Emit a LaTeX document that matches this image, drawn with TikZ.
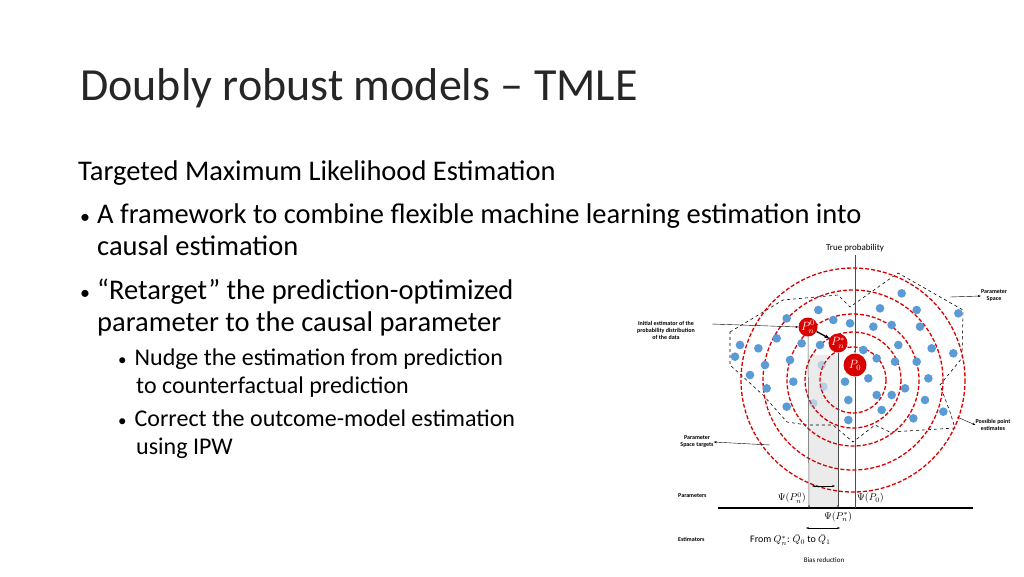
\documentclass[tikz,border=0pt]{standalone}
\usepackage{fontspec}
\setmainfont{Carlito}
\usepackage{amsmath}
\usetikzlibrary{arrows.meta}
\definecolor{dotblue}{HTML}{5B9BD5}
\begin{document}
\begin{tikzpicture}[x=1pt,y=-1pt,
  txt/.style={anchor=base west,inner sep=0},
  tiny/.style={font=\fontsize{6}{7}\selectfont\bfseries,align=center,inner sep=0},
  ring/.style={draw=red!85!black,line width=1.3pt,dash pattern=on 4pt off 2pt},
  dot/.style={fill=dotblue},
  pnode/.style={circle,fill=red!85!black,text=white,inner sep=0,minimum size=19pt,font=\large},
  vline/.style={draw=black!70,line width=0.5pt},
  lbl/.style={-{Stealth[length=3pt]},line width=0.4pt}]
\useasboundingbox (0,0) rectangle (1024,576);
\node[txt,font=\fontsize{46}{52}\selectfont,text=black!85] (title) at (80,100) {Doubly robust models -- TMLE};
\begin{scope}[every node/.append style={font=\fontsize{28.5}{34}\selectfont}]
\node[txt] (h) at (78,180) {Targeted Maximum Likelihood Estimation};
\node[txt] (b1) at (80,223) {{\fontsize{20}{20}\selectfont•}\hspace{7pt}A framework to combine flexible machine learning estimation into};
\node[txt] (b1b) at (97,255) {causal estimation};
\node[txt] (b2) at (80,299) {{\fontsize{20}{20}\selectfont•}\hspace{7pt}“Retarget” the prediction-optimized};
\node[txt] (b2b) at (97,331) {parameter to the causal parameter};
\end{scope}
\begin{scope}[every node/.append style={font=\fontsize{24}{28}\selectfont}]
\node[txt] (s1) at (118,365) {{\fontsize{17}{17}\selectfont•}\hspace{8pt}Nudge the estimation from prediction};
\node[txt] (s1b) at (136,393) {to counterfactual prediction};
\node[txt] (s2) at (118,426) {{\fontsize{17}{17}\selectfont•}\hspace{8pt}Correct the outcome-model estimation};
\node[txt] (s2b) at (136,454) {using IPW};
\end{scope}
% shaded band
\fill[black!8] (809,355) rectangle (838,508);
% polygon
\draw[dashed,line width=0.6pt] (730,332)--(783,300)--(838,295)--(850,307)--(898,273)--(963,310)--(962,358)--(940,385)--(950,412)--(955,428)--(890,432)--(875,425)--(853,442)--(833,425)--(807,425)--(787,422)--(763,395)--(730,365)--cycle;
% rings
\foreach \r in {112,90,66,48,33} \draw[ring] (853,380) circle (\r);
% dots
\begin{scope}[shift={(620,235)},scale=1/3]
\foreach \p in {(845,175),(595,225),(500,250),(640,255),(690,265),(780,220),(890,225),(1015,235),(760,275),(815,270),(900,275),(470,310),(360,330),(415,340),(545,325),(600,330),(835,330),(935,340),(730,345),(345,365),(510,375),(435,390),(770,370),(825,380),(890,380),(1000,355),(390,420),(520,440),(675,440),(745,430),(925,430),(440,460),(685,495),(770,480),(815,480),(855,460),(915,495),(500,515),(785,525),(970,530),(685,555),(880,550)}
  \fill[dot] \p circle (13);
\foreach \p in {(605,390),(610,455),(580,505)} \fill[dot,opacity=0.35] \p circle (13);
\end{scope}
% P nodes
\node[pnode] (pn0) at (808,327) {$P_n^0$};
\node[pnode] (pns) at (838,343) {$P_n^*$};
\node[pnode,minimum size=23pt] (p0) at (855,365) {$P_0$};
\draw[-{Stealth[length=5pt]},line width=1.3pt] (pn0) -- (pns);
% axis
\draw[line width=1.6pt] (718,508) coordinate (axL) -- (973,508) coordinate (axR);
\coordinate (a0) at (809,508); \coordinate (as) at (838,508); \coordinate (ap) at (855,508);
\draw[vline,-{Stealth[length=3pt]}] (pn0.south) -- (a0);
\draw[vline,-{Stealth[length=3pt]}] (pns.south) -- (as);
\draw[vline] (p0.south) -- (ap);
\node[font=\small] (tp) at (855,248) {True probability};
\draw[vline,-{Stealth[length=3pt]}] (tp.south) -- (p0.north);
\draw[{Stealth[length=3pt]}-{Stealth[length=3pt]},line width=0.5pt] (812,486) coordinate (d1) -- (835,486) coordinate (d2);
\node[anchor=east,inner sep=1pt] (l0) at (807,498) {$\Psi(P_n^0)$};
\node[anchor=west,inner sep=1pt] (lp) at (856,498) {$\Psi(P_0)$};
\node[inner sep=0pt] (ls) at (838,517) {$\Psi(P_n^*)$};
\draw[{Stealth[length=3pt]}-{Stealth[length=3pt]},line width=0.5pt] (806,528) coordinate (e1) -- (840,528) coordinate (e2);
\node[anchor=west,inner sep=0] (from) at (750,540) {From $Q_n^*$: $\bar Q_0$ to $\bar Q_1$};
\node[font=\scriptsize] (bias) at (824,560) {Bias reduction};
\node[tiny,anchor=west] (par) at (678,496) {Parameters};
\node[tiny,anchor=west] (est) at (678,539) {Estimators};
% side labels
\node[tiny] (init) at (666,330) {Initial estimator of the\\probability distribution\\of the data};
\draw[lbl] (712,324) -- (pn0.west);
\node[tiny] (ps) at (994,296) {Parameter\\Space};
\draw[lbl] (950,297) -- (ps.west);
\node[tiny] (ppe) at (993,425) {Possible point\\estimates};
\draw[lbl] (957,417) -- (ppe.west);
\node[tiny] (pst) at (697,442) {Parameter\\Space targets};
\draw[lbl] (770,445) -- (pst.east);
\end{tikzpicture}
\end{document}
